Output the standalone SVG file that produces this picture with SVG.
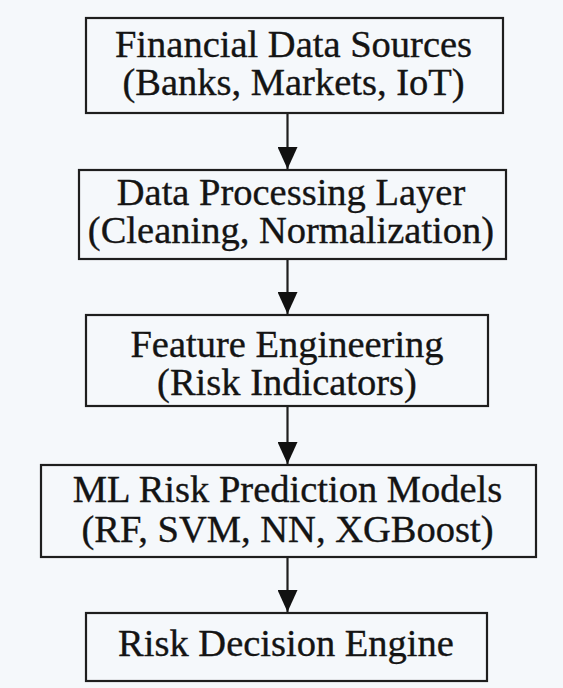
<svg xmlns="http://www.w3.org/2000/svg" width="563" height="688" viewBox="0 0 563 688">
  <style>
    .box { fill: #f5f8fb; stroke: #1e1e1e; stroke-width: 2.2; }
    .lbl { font-family: "Liberation Serif", "Times New Roman", serif; font-size: 38.5px; fill: #141414; stroke: #141414; stroke-width: 0.35; text-anchor: middle; }
    .edge { stroke: #1e1e1e; stroke-width: 2.2; fill: none; marker-end: url(#head); }
  </style>
  <defs>
    <marker id="head" viewBox="0 0 22 20" refX="22" refY="10" markerWidth="22" markerHeight="20" markerUnits="userSpaceOnUse" orient="auto">
      <path d="M0,0 L22,10 L0,20 Z" fill="#111"/>
    </marker>
  </defs>
  <rect width="563" height="688" fill="#f5f8fb"/>

  <!-- vertical flow arrows between stages -->
  <g id="connectors">
    <line class="edge" x1="287.5" y1="113" x2="287.5" y2="169"/>
    <line class="edge" x1="287.5" y1="259" x2="287.5" y2="314"/>
    <line class="edge" x1="287.5" y1="406" x2="287.5" y2="464"/>
    <line class="edge" x1="287.5" y1="557" x2="287.5" y2="612"/>
  </g>

  <g id="sources">
    <rect class="box" x="86" y="18" width="417" height="95"/>
    <text class="lbl"><tspan x="293.5" y="57">Financial Data Sources</tspan><tspan x="293.5" y="95">(Banks, Markets, IoT)</tspan></text>
  </g>

  <g id="processing">
    <rect class="box" x="79" y="170" width="427" height="89"/>
    <text class="lbl"><tspan x="291" y="205">Data Processing Layer</tspan><tspan x="291" y="243">(Cleaning, Normalization)</tspan></text>
  </g>

  <g id="features">
    <rect class="box" x="86" y="315" width="402" height="91"/>
    <text class="lbl"><tspan x="287" y="357">Feature Engineering</tspan><tspan x="287" y="395">(Risk Indicators)</tspan></text>
  </g>

  <g id="models">
    <rect class="box" x="41" y="465" width="495" height="92"/>
    <text class="lbl"><tspan x="287.5" y="502">ML Risk Prediction Models</tspan><tspan x="287.5" y="542">(RF, SVM, NN, XGBoost)</tspan></text>
  </g>

  <g id="decision">
    <rect class="box" x="86" y="613" width="401" height="68"/>
    <text class="lbl" x="286" y="656">Risk Decision Engine</text>
  </g>
</svg>
